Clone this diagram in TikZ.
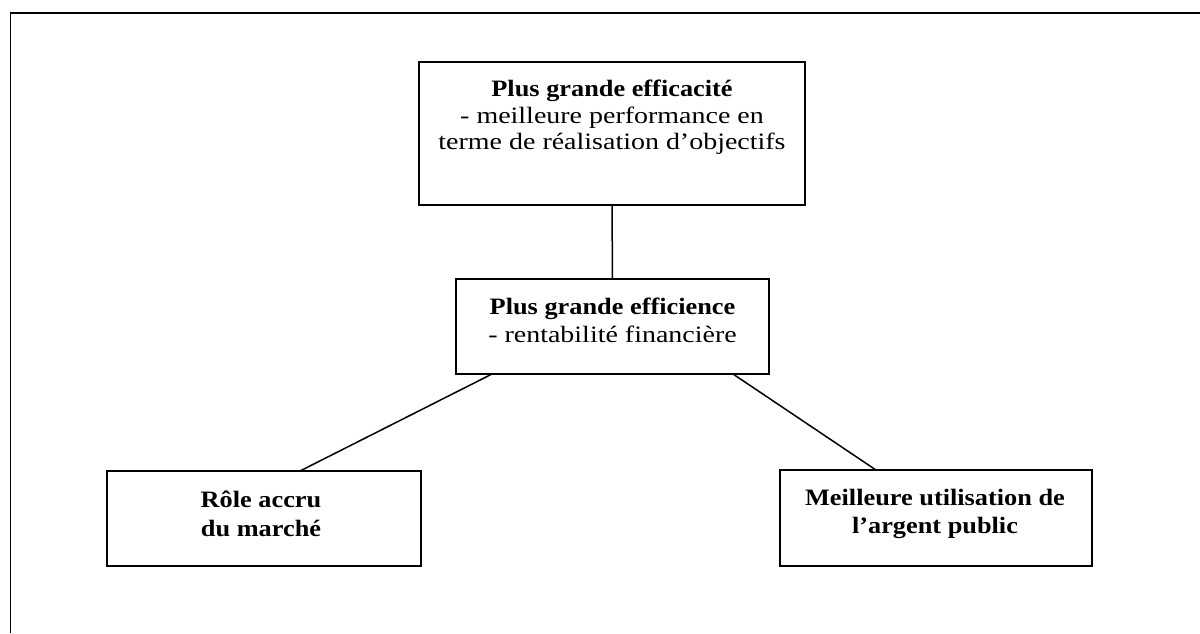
\documentclass[tikz,border=0pt]{standalone}
\usepackage{fontspec}
\usepackage{graphicx}
\setmainfont{Liberation Serif}
% the lettering is set slightly wide: stretch each line horizontally
\newcommand{\widetext}[1]{\scalebox{1.19}[1]{#1}}
\newcommand{\widebold}[1]{\scalebox{1.12}[1]{#1}}
\begin{document}
\begin{tikzpicture}[x=1pt,y=-1pt,
  box/.style={draw,line width=1.8pt,inner sep=0pt,outer sep=0pt},
  link/.style={line width=1.5pt},
  txt/.style={inner sep=0pt,anchor=base,font=\fontsize{23.5}{27}\selectfont},
  btxt/.style={txt,font=\fontsize{23.5}{27}\selectfont\bfseries}]
\useasboundingbox (0,0) rectangle (1200,633);
% page frame: top and left rules only
\draw[line width=1.8pt] (10.5,633) -- (10.5,13) -- (1200,13);

% boxes
\node[box,minimum width=386pt,minimum height=143pt] (top) at (612,133.5) {};
\node[box,minimum width=313pt,minimum height=95pt] (mid) at (612.5,326.5) {};
\node[box,minimum width=314pt,minimum height=95pt] (lbox) at (264,518.5) {};
\node[box,minimum width=312pt,minimum height=96pt] (rbox) at (936,518) {};

% texts
\node[btxt] (t1) at (612,96) {\widebold{Plus grande efficacité}};
\node[txt] (t2) at (612,123) {\widetext{- meilleure performance en}};
\node[txt] (t3) at (612,149) {\widetext{terme de réalisation d’objectifs}};
\node[btxt] (m1) at (612.5,314) {\widebold{Plus grande efficience}};
\node[txt] (m2) at (612.5,342) {\widetext{- rentabilité financière}};
\node[btxt] (l1) at (261,507) {\widebold{Rôle accru}};
\node[btxt] (l2) at (261,536) {\widebold{du marché}};
\node[btxt] (r1) at (935,505) {\widebold{Meilleure utilisation de}};
\node[btxt] (r2) at (935,533) {\widebold{l’argent public}};

% connectors
\draw[link] (top.south) -- (mid.north);
\draw[link] ([xshift=36pt]mid.south west) -- ([xshift=193pt]lbox.north west);
\draw[link] ([xshift=-36pt]mid.south east) -- ([xshift=96pt]rbox.north west);
\end{tikzpicture}
\end{document}
